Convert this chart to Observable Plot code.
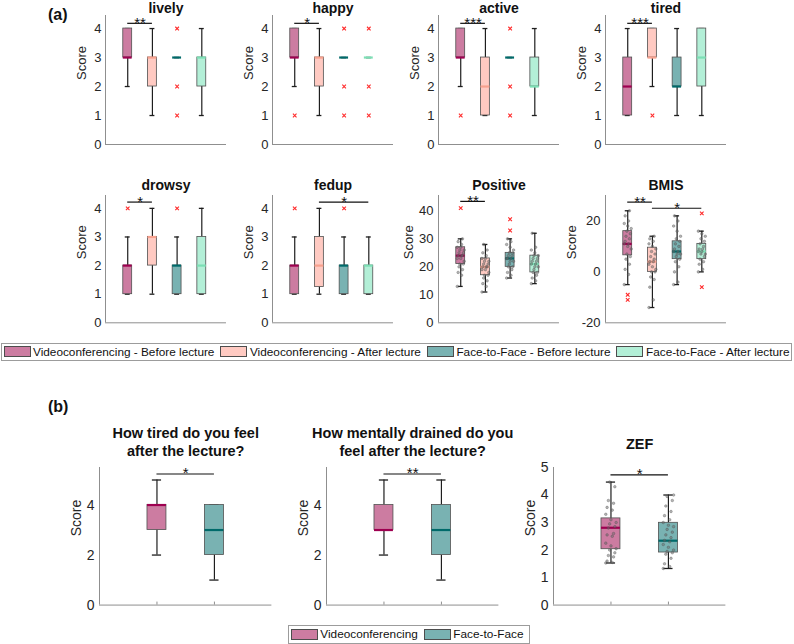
<!DOCTYPE html>
<html><head><meta charset="utf-8">
<script src="https://cdn.jsdelivr.net/npm/d3@7"></script>
<script src="https://cdn.jsdelivr.net/npm/@observablehq/plot@0.6"></script>
<style>
body{margin:0;background:#fff;}
#root{position:relative;width:794px;height:644px;overflow:hidden;background:#fff;font-family:"Liberation Sans",Arial,Helvetica,sans-serif;color:#111;}
.plabel{position:absolute;font-weight:bold;font-size:16px;line-height:16px;}
.legend{position:absolute;border:1px solid #9c9c9c;display:flex;align-items:center;box-sizing:border-box;background:#fff;padding-left:1.5px;}
.item{display:flex;align-items:center;white-space:nowrap;margin-right:6px;font-size:11.8px;line-height:12px;}
.sw{width:27px;height:11px;border:1px solid #4d4d4d;box-sizing:border-box;margin-right:2.5px;}
</style></head>
<body><div id="root"></div>
<script>
// ---------- categories & labels ----------
const groupNames = ["Videoconferencing - Before lecture", "Videoconferencing - After lecture", "Face-to-Face - Before lecture", "Face-to-Face - After lecture"];
const groupNamesB = ["Videoconferencing", "Face-to-Face"];
const titlesA = ["lively", "happy", "active", "tired", "drowsy", "fedup", "Positive", "BMIS"];
const titlesB = ["How tired do you feel\nafter the lecture?", "How mentally drained do you\nfeel after the lecture?", "ZEF"];
const likertTicks = [0, 1, 2, 3, 4];
const positiveTicks = [0, 10, 20, 30, 40];
const bmisTicks = [-20, 0, 20];
const questionTicks = [0, 2, 4];
const zefTicks = [0, 1, 2, 3, 4, 5];

// ---------- box statistics (groups in legend order) ----------
const lively   = {lo: [2, 1, 3, 1], q1: [3, 2, 3, 2], med: [3, 3, 3, 3], q3: [4, 3, 3, 3], hi: [4, 4, 3, 4]};
const livelyOut = [[], [], [4, 2, 1], []];
const happy    = {lo: [2, 1, 3, 3], q1: [3, 2, 3, 3], med: [3, 3, 3, 3], q3: [4, 3, 3, 3], hi: [4, 4, 3, 3]};
const happyOut = [[1], [], [4, 2, 1], [4, 2, 1]];
const active   = {lo: [2, 1, 3, 1], q1: [3, 1, 3, 2], med: [3, 2, 3, 2], q3: [4, 3, 3, 3], hi: [4, 4, 3, 4]};
const activeOut = [[1], [], [4, 2, 1], []];
const tired    = {lo: [1, 2, 1, 1], q1: [1, 3, 2, 2], med: [2, 3, 2, 3], q3: [3, 4, 3, 4], hi: [4, 4, 4, 4]};
const tiredOut = [[], [1], [], []];
const drowsy   = {lo: [1, 1, 1, 1], q1: [1, 2, 1, 1], med: [2, 3, 2, 2], q3: [2, 3, 2, 3], hi: [3, 4, 3, 4]};
const drowsyOut = [[4], [], [4], []];
const fedup    = {lo: [1, 1, 1, 1], q1: [1, 1.25, 1, 1], med: [2, 2, 2, 2], q3: [2, 3, 2, 2], hi: [3, 4, 3, 3]};
const fedupOut = [[4], [], [4], []];
const positive = {lo: [13, 11, 16, 14], q1: [21, 17, 20, 18], med: [24, 20, 23, 21], q3: [27, 23, 25, 24], hi: [30, 28, 30, 32]};
const positiveOut = [[41], [], [37, 33], []];
const positivePts = [
  [13, 17, 18, 19, 20, 21, 21, 22, 23, 23, 24, 24, 24, 25, 25, 26, 26, 27, 27, 28, 29, 30],
  [11, 13, 14, 15, 16, 17, 17, 18, 19, 19, 20, 20, 20, 21, 21, 22, 22, 23, 23, 24, 25, 26, 28],
  [16, 17, 18, 19, 20, 20, 21, 22, 22, 23, 23, 23, 24, 24, 25, 25, 26, 27, 28, 29, 30],
  [14, 15, 16, 17, 18, 18, 19, 20, 20, 21, 21, 22, 22, 23, 23, 24, 24, 25, 26, 27, 32]
];
const bmis = {lo: [-5, -14, -5, 0], q1: [6.5, 0, 5, 5], med: [11, 4, 8, 8], q3: [16, 9.5, 12, 11], hi: [24, 14, 22, 16]};
const bmisOut = [[-9, -11], [], [], [23, -6]];
const bmisPts = [
  [-5, -1, 1, 3, 5, 6, 7, 9, 10, 11, 11, 12, 13, 14, 15, 16, 17, 18, 19, 20, 22, 24],
  [-14, -11, -6, -3, -2, 0, 0, 1, 2, 3, 4, 4, 5, 6, 7, 8, 9, 10, 11, 12, 13, 14],
  [-5, -4, 0, 2, 4, 5, 6, 7, 7, 8, 8, 9, 10, 11, 12, 13, 14, 16, 18, 20, 22],
  [0, 1, 3, 4, 5, 6, 7, 7, 8, 8, 9, 9, 10, 11, 12, 13, 14, 15, 16]
];
const tiredAfter = {lo: [2, 1], q1: [3, 2], med: [4, 3], q3: [4, 4], hi: [5, 4]};
const drainedAfter = {lo: [2, 1], q1: [3, 2], med: [3, 3], q3: [4, 4], hi: [5, 5]};
const zef = {lo: [1.53, 1.33], q1: [2.03, 1.91], med: [2.81, 2.34], q3: [3.15, 2.99], hi: [4.47, 4.0]};
const zefPts = [
  [1.53, 1.55, 1.6, 1.75, 1.8, 1.9, 2.0, 2.05, 2.15, 2.25, 2.5, 2.55, 2.6, 2.8, 2.85, 2.95, 3.0, 3.1, 3.3, 3.45, 3.55, 3.7, 3.8, 4.3, 4.47],
  [1.33, 1.4, 1.5, 1.7, 1.85, 1.9, 1.95, 2.0, 2.1, 2.2, 2.3, 2.35, 2.45, 2.55, 2.65, 2.75, 2.85, 2.9, 3.0, 3.1, 3.25, 3.4, 3.6, 3.8, 3.95, 4.0]
];

// ---------- significance brackets ----------
const livelySig = [{from: 1, to: 2, at: 4.18, label: "**"}];
const happySig = [{from: 1, to: 2, at: 4.18, label: "*"}];
const activeSig = [{from: 1, to: 2, at: 4.18, label: "***"}];
const tiredSig = [{from: 1, to: 2, at: 4.18, label: "***"}];
const drowsySig = [{from: 1, to: 2, at: 4.22, label: "*"}];
const fedupSig = [{from: 2, to: 4, at: 4.22, label: "*"}];
const positiveSig = [{from: 1, to: 2, at: 43.4, label: "**"}];
const bmisSig = [{from: 1, to: 2, at: 27.4, label: "**"}, {from: 2, to: 4, at: 25.0, label: "*"}];
const tiredAfterSig = [{from: 1, to: 2, at: 5.24, label: "*"}];
const drainedAfterSig = [{from: 1, to: 2, at: 5.24, label: "**"}];
const zefSig = [{from: 1, to: 2, at: 4.73, label: "*"}];

// ---------- styles ----------
const boxFill = ["#cc7ca1", "#ffcac2", "#79b2b2", "#b3efd7"];
const medianColor = ["#9e0050", "#f7a18e", "#006a6a", "#7cdfb5"];
const boxFillB = [boxFill[0], boxFill[2]];
const medianColorB = [medianColor[0], medianColor[2]];
const FONT = "'Liberation Sans', Arial, Helvetica, sans-serif";
const AX = "#8f8f8f";

const root = document.getElementById("root");

function panel(c) {
  const mL = 60, mR = 8, mT = 48, mB = 8;
  const n = c.stats.q1.length;
  const rows = d3.range(n).map(i => ({x: i + 1, lo: c.stats.lo[i], q1: c.stats.q1[i], med: c.stats.med[i], q3: c.stats.q3[i], hi: c.stats.hi[i], fill: c.fills[i], mc: c.meds[i]}));
  const out = (c.outliers || []).flatMap((a, i) => a.map(v => ({x: i + 1, v})));
  const pts = (c.points || []).flatMap((a, i) => a.map((v, j) => ({x: i + 1 + (((j * 5) % 9) - 4) / 4 * c.jit, v})));
  const k = (c.ydomain[1] - c.ydomain[0]) / c.h;
  const ink = "#1e1e1e";
  const marks = [
    Plot.ruleY([c.ydomain[0]], {stroke: AX, strokeWidth: 1}),
    Plot.ruleX([c.xdomain[0]], {stroke: AX, strokeWidth: 1}),
    Plot.axisY({ticks: c.yticks, tickSize: 0, tickPadding: c.pad, tickFormat: d => String(d), label: null, fill: "#262626", fontSize: c.fs}),
    Plot.text(["Score"], {frameAnchor: "left", text: d => d, rotate: -90, dx: c.scoreDx, fontSize: c.fs, fill: "#262626"}),
    Plot.text([c.title], {frameAnchor: "top", text: d => d, lineAnchor: "bottom", dy: c.titleDy, fontWeight: "bold", fontSize: c.tfs, lineHeight: 1.26, fill: "#111"}),
    Plot.ruleX(rows, {x: "x", y1: "lo", y2: "q1", stroke: ink, strokeWidth: 1.2}),
    Plot.ruleX(rows, {x: "x", y1: "q3", y2: "hi", stroke: ink, strokeWidth: 1.2}),
    Plot.ruleY(rows, {y: "lo", x1: d => d.x - c.cap, x2: d => d.x + c.cap, stroke: ink, strokeWidth: 1.3}),
    Plot.ruleY(rows, {y: "hi", x1: d => d.x - c.cap, x2: d => d.x + c.cap, stroke: ink, strokeWidth: 1.3}),
    Plot.rect(rows, {x1: d => d.x - c.half, x2: d => d.x + c.half, y1: "q1", y2: "q3", fill: "fill", stroke: "#505050", strokeWidth: 0.8}),
    Plot.ruleY(rows, {y: "med", x1: d => d.x - c.half, x2: d => d.x + c.half, stroke: "mc", strokeWidth: 2.2}),
    Plot.dot(pts, {x: "x", y: "v", r: 1.3, fill: "#6b6b6b", fillOpacity: 0.5, stroke: "#4a4a4a", strokeOpacity: 0.55, strokeWidth: 0.6}),
    Plot.dot(out, {x: "x", y: "v", symbol: "times", r: 1.8, stroke: "#ff2a2a", strokeWidth: 1.1}),
    Plot.ruleY(c.sigs, {y: "at", x1: "from", x2: "to", stroke: "#111", strokeWidth: 1.2}),
    Plot.text(c.sigs, {x: d => (d.from + d.to) / 2, y: "at", text: "label", lineAnchor: "bottom", dy: 4.5, fontSize: 15, fill: "#111"})
  ];
  if (c.xticks) marks.push(Plot.ruleX(c.xticks, {x: d => d, y1: c.ydomain[0], y2: c.ydomain[0] + 3 * k, stroke: AX}));
  const svg = Plot.plot({
    width: mL + c.w + mR, height: mT + c.h + mB,
    marginLeft: mL, marginRight: mR, marginTop: mT, marginBottom: mB,
    x: {domain: c.xdomain, axis: null},
    y: {domain: c.ydomain},
    color: {type: "identity"},
    style: {background: "transparent", overflow: "visible", fontFamily: FONT, fontSize: c.fs + "px", color: "#1a1a1a"},
    marks
  });
  svg.style.position = "absolute";
  svg.style.left = (c.left - mL) + "px";
  svg.style.top = (c.top - mT) + "px";
  svg.style.maxWidth = "none";
  root.appendChild(svg);
}

// ---------- row (a) ----------
const colA = [105, 271.7, 438.3, 605];
const baseA = {w: 121, xdomain: [0.1, 5], half: 0.18, cap: 0.1, fs: 13, tfs: 14, pad: 4, fills: boxFill, meds: medianColor, jit: 0.14};
const row1 = {top: 15, h: 129, titleDy: -2.2};
const row2 = {top: 195, h: 127.3, titleDy: -5.5};
const likertA = [
  [titlesA[0], lively, livelyOut, livelySig, 0, row1],
  [titlesA[1], happy, happyOut, happySig, 1, row1],
  [titlesA[2], active, activeOut, activeSig, 2, row1],
  [titlesA[3], tired, tiredOut, tiredSig, 3, row1],
  [titlesA[4], drowsy, drowsyOut, drowsySig, 0, row2],
  [titlesA[5], fedup, fedupOut, fedupSig, 1, row2]
];
for (const [title, stats, outliers, sigs, col, row] of likertA) {
  panel({...baseA, ...row, left: colA[col], title, stats, outliers, sigs, ydomain: [0, 4.45], yticks: likertTicks, scoreDx: -23.3});
}
panel({...baseA, ...row2, left: colA[2], title: titlesA[6], stats: positive, outliers: positiveOut, points: positivePts, sigs: positiveSig, ydomain: [0, 45.5], yticks: positiveTicks, scoreDx: -30, pad: 5});
panel({...baseA, ...row2, left: colA[3], title: titlesA[7], stats: bmis, outliers: bmisOut, points: bmisPts, sigs: bmisSig, ydomain: [-20, 30], yticks: bmisTicks, scoreDx: -34, pad: 5});

// ---------- row (b) ----------
const colB = [99.3, 326, 553.3];
const baseB = {w: 172.4, top: 466.7, h: 137.6, xdomain: [0, 3], xticks: [1, 2], half: 0.165, cap: 0.08, fs: 14, tfs: 14.5, pad: 5, fills: boxFillB, meds: medianColorB, scoreDx: -23, jit: 0.09};
panel({...baseB, left: colB[0], title: titlesB[0], titleDy: -11.7, stats: tiredAfter, sigs: tiredAfterSig, ydomain: [0, 5.5], yticks: questionTicks});
panel({...baseB, left: colB[1], title: titlesB[1], titleDy: -11.7, stats: drainedAfter, sigs: drainedAfterSig, ydomain: [0, 5.5], yticks: questionTicks});
panel({...baseB, left: colB[2], title: titlesB[2], titleDy: -18.4, stats: zef, points: zefPts, sigs: zefSig, ydomain: [0, 5], yticks: zefTicks});

// ---------- panel labels ----------
function addLabel(text, x, y) {
  const d = document.createElement("div");
  d.className = "plabel"; d.textContent = text;
  d.style.left = x + "px"; d.style.top = y + "px";
  root.appendChild(d);
}
addLabel("(a)", 48, 7);
addLabel("(b)", 48, 399);

// ---------- legends ----------
function addLegend(names, fills, left, top, width, height) {
  const lg = document.createElement("div");
  lg.className = "legend";
  Object.assign(lg.style, {left: left + "px", top: top + "px", width: width + "px", height: height + "px"});
  names.forEach((name, i) => {
    const it = document.createElement("div"); it.className = "item";
    const sw = document.createElement("div"); sw.className = "sw"; sw.style.background = fills[i];
    const tx = document.createElement("span"); tx.textContent = name;
    it.appendChild(sw); it.appendChild(tx); lg.appendChild(it);
  });
  root.appendChild(lg);
}
addLegend(groupNames, boxFill, 1, 343, 791, 17.5);
addLegend(groupNamesB, boxFillB, 288.3, 625, 242, 18.5);
</script>
</body></html>
